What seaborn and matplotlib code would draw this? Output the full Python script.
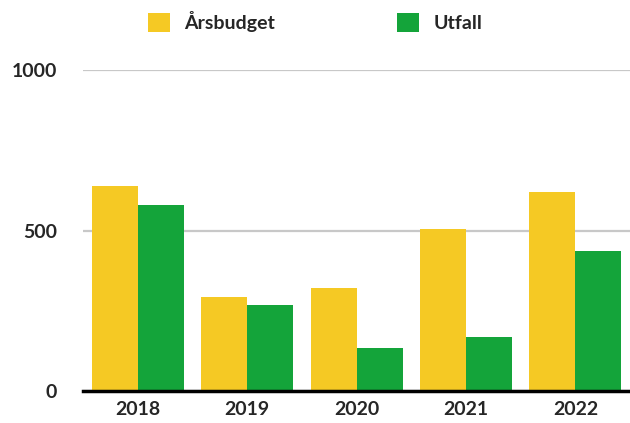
import seaborn as sns
import matplotlib.pyplot as plt
import pandas as pd
from matplotlib.patches import Patch

# ── Data ─────────────────────────────────────────────
years = ["2018", "2019", "2020", "2021", "2022"]
budget = [640, 293, 321, 505, 621]
utfall = [580, 268, 133, 168, 436]
series = ["Årsbudget", "Utfall"]
colors = ["#F5C924", "#14A43A"]

df = pd.DataFrame({
    "year": years * 2,
    "value": budget + utfall,
    "series": [series[0]] * len(years) + [series[1]] * len(years),
})

sns.set_style("white")
plt.rcParams["font.family"] = ["Lato", "DejaVu Sans"]

fig = plt.figure(figsize=(6.3, 4.23), dpi=100)
ax = fig.add_axes([0.132, 0.076, 0.868, 0.758])

sns.barplot(data=df, x="year", y="value", hue="series", palette=colors,
            width=0.84, saturation=1, linewidth=0, ax=ax, legend=False)

ax.set_xlim(-0.5, 4.5)
ax.set_ylim(0, 1000)
ax.set_yticks([0, 500, 1000])
ax.yaxis.grid(True, color="#c8c8c8", linewidth=1.6)
ax.set_axisbelow(True)
ax.set_xlabel("")
ax.set_ylabel("")
for s in ["top", "right", "left"]:
    ax.spines[s].set_visible(False)
ax.spines["bottom"].set_color("black")
ax.spines["bottom"].set_linewidth(2.5)
ax.tick_params(axis="y", length=0, pad=19, labelsize=14)
ax.tick_params(axis="x", length=0, pad=7, labelsize=14)
for lbl in ax.get_xticklabels() + ax.get_yticklabels():
    lbl.set_fontweight("bold")

handles = [Patch(facecolor=c, edgecolor="none") for c in colors]
fig.legend(handles, series, loc="center", bbox_to_anchor=(0.5, 0.948), ncol=2,
           frameon=False, prop={"weight": "bold", "size": 14},
           handlelength=1.13, handleheight=1.13, handletextpad=0.75,
           columnspacing=6.27)

fig.savefig("out.png", dpi=100)
